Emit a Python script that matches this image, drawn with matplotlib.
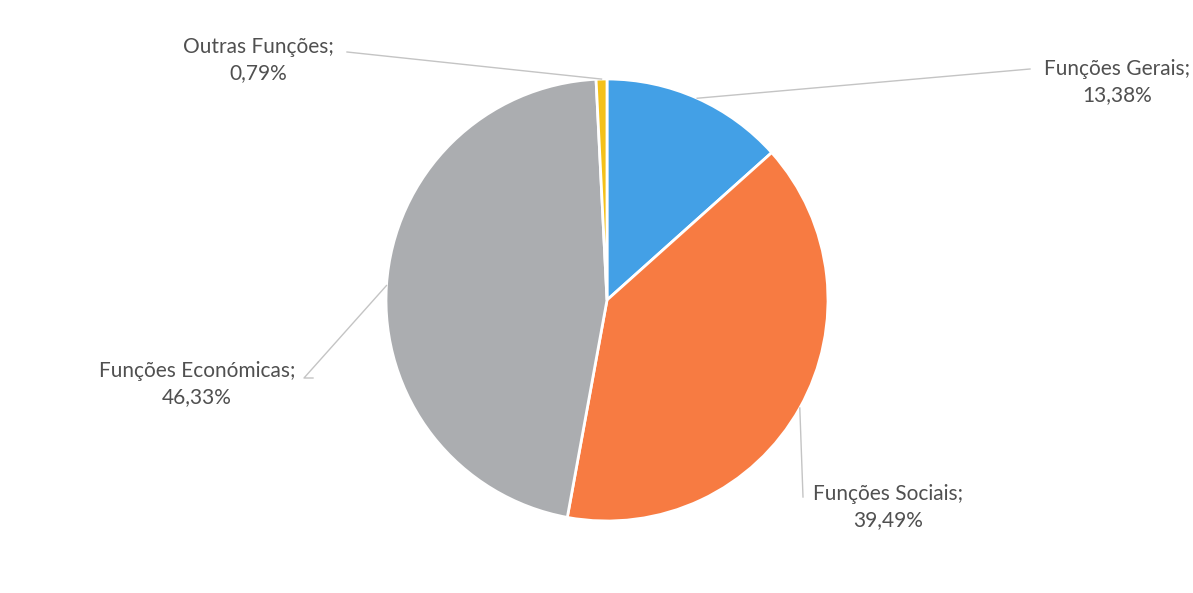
import numpy as np
import matplotlib
matplotlib.use("Agg")
import matplotlib.pyplot as plt

categories = ["Funções Gerais", "Funções Sociais", "Funções Económicas", "Outras Funções"]
values = [13.38, 39.49, 46.33, 0.79]
labels = ["13,38%", "39,49%", "46,33%", "0,79%"]
colors = ["#43a0e6", "#f77b42", "#abadb0", "#f4c11a"]

W, H = 1193, 593
fig = plt.figure(figsize=(W / 100, H / 100), dpi=100)
plt.rcParams['font.family'] = ['Lato', 'DejaVu Sans']

cx, cy, r = 607, 300, 221
ax = fig.add_axes([(cx - r) / W, (H - cy - r) / H, 2 * r / W, 2 * r / H])
wedges, _ = ax.pie(values, colors=colors, startangle=90, counterclock=False,
                   radius=1, wedgeprops=dict(edgecolor="white", linewidth=2))
ax.set_xlim(-1, 1)
ax.set_ylim(-1, 1)
ax.set_aspect("equal")
ax.axis("off")

# label layout: (text center px, leader path px after the wedge point), image coords (y from top)
layout = {
    "Funções Gerais": ((1117, 82), [(1030, 69)]),
    "Funções Sociais": ((888, 507), [(803, 497)]),
    "Funções Económicas": ((197, 384), [(304, 378), (313, 378)]),
    "Outras Funções": ((258, 60), [(347, 52)]),
}

txtcolor = "#505050"
linecolor = "#c4c4c4"
for w, cat, lab in zip(wedges, categories, labels):
    ang = np.deg2rad((w.theta1 + w.theta2) / 2)
    px, py = np.cos(ang), np.sin(ang)
    (tx, ty), pts = layout[cat]
    start = ax.transData.transform((px, py))
    path = [tuple(start)] + [(p[0], H - p[1]) for p in pts]
    fx = [p[0] / W for p in path]
    fy = [p[1] / H for p in path]
    fig.add_artist(plt.Line2D(fx, fy, transform=fig.transFigure, color=linecolor, lw=1))
    fig.text(tx / W, (H - ty) / H, f"{cat};\n{lab}", ha="center", va="center",
             fontsize=15, color=txtcolor, linespacing=1.35)

fig.savefig("out.png", dpi=100, facecolor="white")
